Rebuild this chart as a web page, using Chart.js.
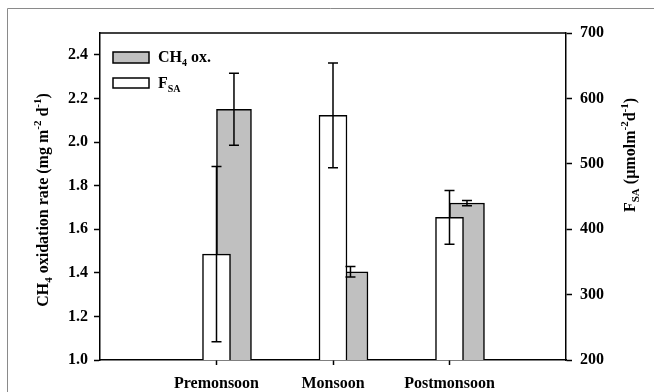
<!DOCTYPE html>
<html>
<head>
<meta charset="utf-8">
<script src="https://cdn.jsdelivr.net/npm/chart.js@4.4.1/dist/chart.umd.min.js"></script>
<style>
  body { margin: 0; background: #fff; }
  #wrap { width: 654px; height: 392px; position: relative; }
</style>
</head>
<body>
<div id="wrap"><canvas id="chart"></canvas></div>
<script>
// values
const seasons = ['Premonsoon', 'Monsoon', 'Postmonsoon'];
const ch4Ox = [2.15, 1.405, 1.72];
const ch4OxErr = [0.165, 0.024, 0.012];
const fsa = [362, 574, 418];
const fsaErr = [134, 80, 41];
const leftTicks = [1.0, 1.2, 1.4, 1.6, 1.8, 2.0, 2.2, 2.4];
const rightTicks = [200, 300, 400, 500, 600, 700];

const serif = '"Liberation Serif", "Times New Roman", serif';
Chart.defaults.color = '#000';
Chart.defaults.font.family = serif;
Chart.defaults.font.weight = 'bold';

// gray bar sits a bit right of the category, white one on the category
const grayShift = 0.15;

function drawRich(ctx, parts, x, y, align) {
  let w = 0;
  for (const p of parts) {
    ctx.font = 'bold ' + (p.s || 16) + 'px ' + serif;
    p.w = ctx.measureText(p.t).width;
    w += p.w;
  }
  let cx = align === 'center' ? x - w / 2 : x;
  for (const p of parts) {
    ctx.font = 'bold ' + (p.s || 16) + 'px ' + serif;
    ctx.fillText(p.t, cx, y + (p.dy || 0));
    cx += p.w;
  }
}

const leftTitle = [
  {t: 'CH'}, {t: '4', s: 11, dy: 4}, {t: ' oxidation rate (mg m'},
  {t: '-2', s: 11, dy: -7}, {t: ' d'}, {t: '-1', s: 11, dy: -7}, {t: ')'}
];
const rightTitle = [
  {t: 'F'}, {t: 'SA', s: 11, dy: 4}, {t: ' (\u00b5molm'},
  {t: '-2', s: 11, dy: -7}, {t: 'd'}, {t: '-1', s: 11, dy: -7}, {t: ')'}
];

const extras = {
  id: 'extras',
  beforeDraw(chart) {
    const ctx = chart.ctx;
    ctx.save();
    ctx.fillStyle = '#fff';
    ctx.fillRect(0, 0, chart.width, chart.height);
    ctx.strokeStyle = '#8a8a8a';
    ctx.lineWidth = 1;
    ctx.beginPath();
    ctx.moveTo(7.5, chart.height);
    ctx.lineTo(7.5, 8.5);
    ctx.lineTo(chart.width, 8.5);
    ctx.stroke();
    ctx.restore();
  },
  afterDatasetsDraw(chart) {
    const ctx = chart.ctx;
    ctx.save();
    ctx.strokeStyle = '#000';
    ctx.lineWidth = 1.5;
    chart.data.datasets.forEach((ds, di) => {
      const meta = chart.getDatasetMeta(di);
      const scale = chart.scales[ds.yAxisID];
      meta.data.forEach((bar, i) => {
        const v = ds.data[i].y, e = ds.errors[i];
        const top = scale.getPixelForValue(v + e);
        const bot = scale.getPixelForValue(v - e);
        ctx.beginPath();
        ctx.moveTo(bar.x, top); ctx.lineTo(bar.x, bot);
        ctx.moveTo(bar.x - 5, top); ctx.lineTo(bar.x + 5, top);
        ctx.moveTo(bar.x - 5, bot); ctx.lineTo(bar.x + 5, bot);
        ctx.stroke();
      });
    });
    ctx.restore();
  },
  afterDraw(chart) {
    const ctx = chart.ctx;
    const a = chart.chartArea;
    ctx.save();
    // top frame line
    ctx.strokeStyle = '#000';
    ctx.lineWidth = 1.5;
    ctx.beginPath();
    ctx.moveTo(a.left, a.top);
    ctx.lineTo(a.right, a.top);
    ctx.stroke();

    ctx.fillStyle = '#000';
    ctx.textBaseline = 'alphabetic';
    // axis titles
    ctx.save();
    ctx.translate(48, 200);
    ctx.rotate(-Math.PI / 2);
    drawRich(ctx, leftTitle, 0, 0, 'center');
    ctx.restore();
    ctx.save();
    ctx.translate(635, 155);
    ctx.rotate(-Math.PI / 2);
    drawRich(ctx, rightTitle, 0, 0, 'center');
    ctx.restore();

    // legend
    const lx = a.left + 13;
    ctx.lineWidth = 1.5;
    ctx.fillStyle = '#c0c0c0';
    ctx.fillRect(lx, 52, 36, 11);
    ctx.strokeRect(lx, 52, 36, 11);
    ctx.fillStyle = '#fff';
    ctx.fillRect(lx, 78, 36, 10);
    ctx.strokeRect(lx, 78, 36, 10);
    ctx.fillStyle = '#000';
    drawRich(ctx, [{t: 'CH'}, {t: '4', s: 10, dy: 4}, {t: ' ox.'}], lx + 45, 62, 'left');
    drawRich(ctx, [{t: 'F'}, {t: 'SA', s: 10, dy: 4}], lx + 45, 88, 'left');
    ctx.restore();
  }
};

const ctx = document.getElementById('chart');
new Chart(ctx, {
  type: 'bar',
  data: {
    datasets: [
      {
        label: 'FSA',
        data: fsa.map((v, i) => ({x: i + 1, y: v})),
        errors: fsaErr,
        yAxisID: 'y1',
        backgroundColor: '#fff',
        borderColor: '#000',
        borderWidth: 1.5,
        borderSkipped: false,
        barThickness: 28,
        grouped: false,
        order: 1
      },
      {
        label: 'CH4 ox.',
        data: ch4Ox.map((v, i) => ({x: i + 1 + grayShift, y: v})),
        errors: ch4OxErr,
        yAxisID: 'y',
        backgroundColor: '#c0c0c0',
        borderColor: '#000',
        borderWidth: 1.5,
        borderSkipped: false,
        barThickness: 35,
        grouped: false,
        order: 2
      }
    ]
  },
  options: {
    responsive: true,
    maintainAspectRatio: false,
    animation: false,
    layout: { padding: { top: 33 } },
    plugins: { legend: { display: false }, tooltip: { enabled: false } },
    scales: {
      x: {
        type: 'linear',
        min: 0,
        max: 4,
        offset: false,
        afterBuildTicks: axis => { axis.ticks = seasons.map((s, i) => ({value: i + 1})); },
        afterFit: axis => { axis.height = 32; },
        ticks: {
          callback: v => seasons[v - 1] || '',
          font: { size: 16, weight: 'bold' },
          padding: 9,
          maxRotation: 0,
          autoSkip: false
        },
        grid: { offset: false, drawOnChartArea: false, tickLength: 5, tickColor: '#000', tickWidth: 1.5 },
        border: { color: '#000', width: 1.5 }
      },
      y: {
        position: 'left',
        min: 1.0,
        max: 2.5,
        afterBuildTicks: axis => { axis.ticks = leftTicks.map(v => ({value: v})); },
        afterFit: axis => { axis.width = 100; },
        ticks: {
          callback: v => v.toFixed(1),
          font: { size: 16, weight: 'bold' },
          padding: 6
        },
        grid: { drawOnChartArea: false, tickLength: 6, tickColor: '#000', tickWidth: 1.5 },
        border: { color: '#000', width: 1.5 }
      },
      y1: {
        position: 'right',
        min: 200,
        max: 700,
        afterBuildTicks: axis => { axis.ticks = rightTicks.map(v => ({value: v})); },
        afterFit: axis => { axis.width = 88; },
        ticks: {
          font: { size: 16, weight: 'bold' },
          padding: 8
        },
        grid: { drawOnChartArea: false, tickLength: 6, tickColor: '#000', tickWidth: 1.5 },
        border: { color: '#000', width: 1.5 }
      }
    }
  },
  plugins: [extras]
});
</script>
</body>
</html>
